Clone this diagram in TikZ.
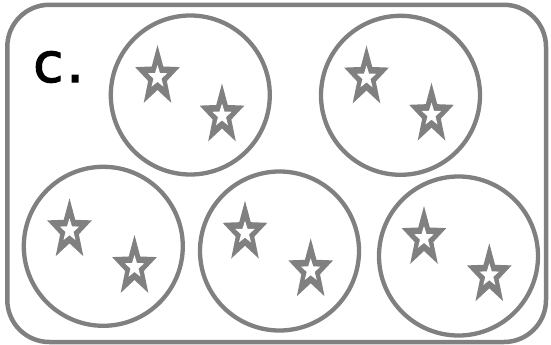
\documentclass[tikz,border=0pt]{standalone}
\usepackage{fontspec}
\newfontfamily\labelfont[FakeBold=2]{DejaVu Sans}
\definecolor{linegray}{HTML}{808080}
\tikzset{
  frame/.style={draw=linegray, line width=4.5pt, rounded corners=42pt},
  group/.style={draw=linegray, line width=4.3pt},
}
\newcommand\mystar[2]{%
  \begin{scope}[shift={(#1,#2)}]
    \fill[linegray] (-90:23.5 and 32) -- (-54:9.8 and 13) -- (-18:23.5 and 32) -- (18:9.8 and 13)
      -- (54:23.5 and 32) -- (90:9.8 and 13) -- (126:23.5 and 32) -- (162:9.8 and 13)
      -- (198:23.5 and 32) -- (234:9.8 and 13) -- cycle;
    \fill[white] (-90:10.2 and 12) -- (-54:4.2 and 4.9) -- (-18:10.2 and 12) -- (18:4.2 and 4.9)
      -- (54:10.2 and 12) -- (90:4.2 and 4.9) -- (126:10.2 and 12) -- (162:4.2 and 4.9)
      -- (198:10.2 and 12) -- (234:4.2 and 4.9) -- cycle;
  \end{scope}}
\begin{document}
\begin{tikzpicture}[x=1pt,y=-1pt]
  \useasboundingbox (0,0) rectangle (551,345);
  \draw[frame] (7.3,4.8) rectangle (546,342);
  \node[anchor=base west, inner sep=0pt, font=\labelfont\fontsize{55}{55}\selectfont] (label) at (33,82) {c\kern3pt.};
  \draw[group] (190.3,95) circle[radius=79.5];
  \draw[group] (400.5,95.3) circle[radius=79.5];
  \draw[group] (103.3,246.3) circle[radius=79.5];
  \draw[group] (279.5,251) circle[radius=79.5];
  \draw[group] (458.5,256) circle[radius=79.5];
  \mystar{157.5}{77}
  \mystar{222}{115.5}
  \mystar{366.5}{77.5}
  \mystar{431.5}{114.7}
  \mystar{69.5}{230.3}
  \mystar{134.5}{267}
  \mystar{245}{232.7}
  \mystar{310.7}{270.3}
  \mystar{424}{238}
  \mystar{489.3}{275.3}
\end{tikzpicture}
\end{document}
